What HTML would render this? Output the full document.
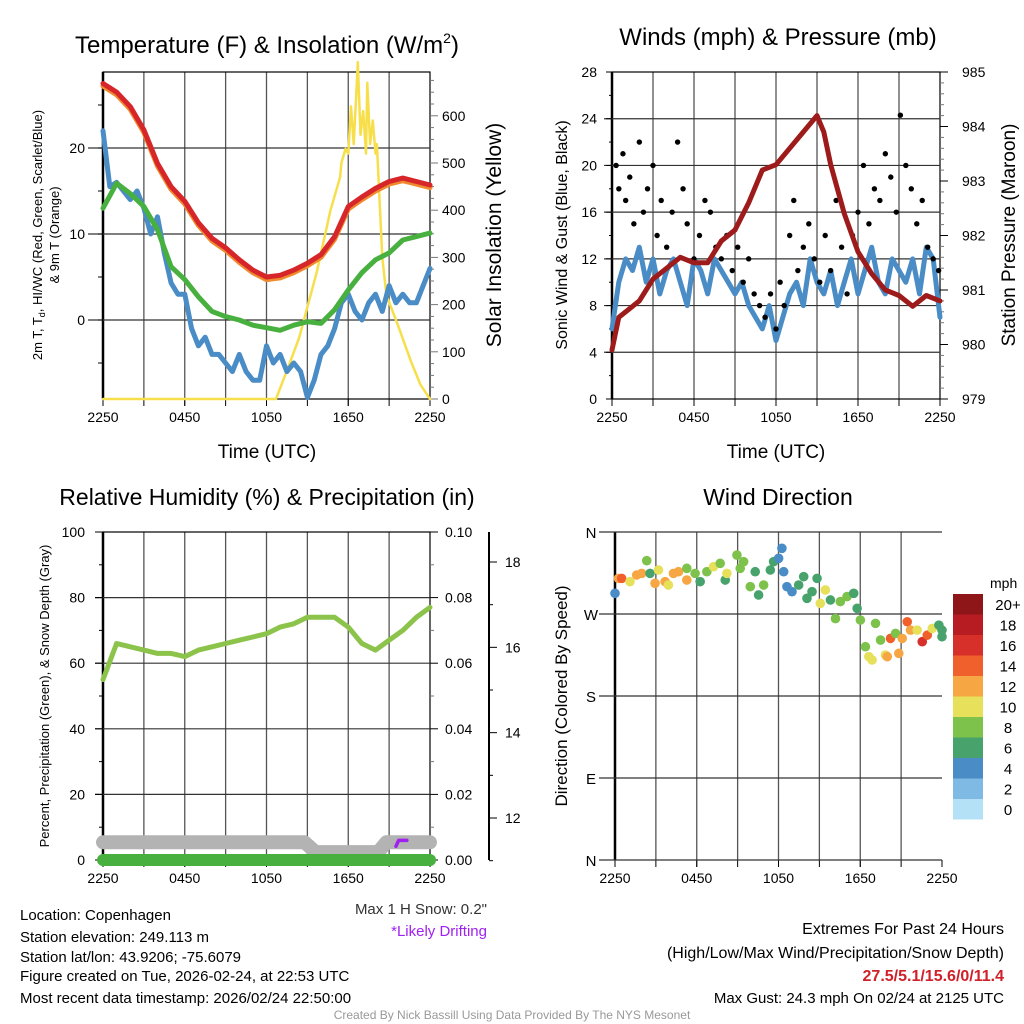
<!DOCTYPE html>
<html><head><meta charset="utf-8"><style>
html,body{margin:0;padding:0;background:#fff;}
svg{display:block;font-family:"Liberation Sans",Arial,sans-serif;}
</style></head><body>
<svg id="chart" xmlns="http://www.w3.org/2000/svg" width="1024" height="1024" viewBox="0 0 1024 1024">
<text x="267" y="53" font-size="24" text-anchor="middle">Temperature (F) &amp; Insolation (W/m<tspan font-size="14" dy="-10">2</tspan><tspan dy="10">)</tspan></text>
<text x="778" y="45" font-size="24" text-anchor="middle">Winds (mph) &amp; Pressure (mb)</text>
<text x="267" y="505" font-size="23" text-anchor="middle">Relative Humidity (%) &amp; Precipitation (in)</text>
<text x="778" y="505" font-size="23" text-anchor="middle">Wind Direction</text>
<g id="layer"></g>
<g font-size="15">
<text x="20" y="920">Location: Copenhagen</text>
<text x="20" y="942">Station elevation: 249.113 m</text>
<text x="20" y="962">Station lat/lon: 43.9206; -75.6079</text>
<text x="20" y="981">Figure created on Tue, 2026-02-24, at 22:53 UTC</text>
<text x="20" y="1003">Most recent data timestamp: 2026/02/24 22:50:00</text>
</g>
<text x="487" y="914" font-size="15" text-anchor="end" fill="#333">Max 1 H Snow: 0.2"</text>
<text x="487" y="936" font-size="15" text-anchor="end" fill="#a020f0">*Likely Drifting</text>
<g font-size="16" text-anchor="end">
<text x="1004" y="934">Extremes For Past 24 Hours</text>
<text x="1004" y="958">(High/Low/Max Wind/Precipitation/Snow Depth)</text>
<text x="1004" y="981" fill="#d0202a" font-weight="bold">27.5/5.1/15.6/0/11.4</text>
<text x="1004" y="1003" font-size="15">Max Gust: 24.3 mph On 02/24 at 2125 UTC</text>
</g>
<text x="512" y="1019" font-size="12" text-anchor="middle" fill="#999">Created By Nick Bassill Using Data Provided By The NYS Mesonet</text>
</svg>
<script>
// ---------- data ----------
const xTickLabels = ["2250","0450","1050","1650","2250"];
const hourly = [0,1,2,3,4,5,6,7,8,9,10,11,12,13,14,15,16,17,18,19,20,21,22,23,24];
const tempRed = [27.5,26.5,24.8,22.1,18.2,15.5,13.8,11.3,9.5,8.4,7.0,5.8,5.0,5.2,5.8,6.6,7.6,9.7,13.2,14.3,15.3,16.1,16.5,16.1,15.7];
const temp9mOrange = [27.2,26.2,24.5,21.8,17.9,15.2,13.5,11.0,9.2,8.1,6.7,5.5,4.7,4.9,5.5,6.3,7.3,9.4,12.9,14.0,15.0,15.8,16.2,15.8,15.4];
const dewGreen = [13.0,15.9,14.7,13.2,10.5,6.2,4.7,2.7,1.0,0.4,0.0,-0.6,-0.9,-1.2,-0.6,-0.2,-0.4,1.2,3.5,5.5,7.0,7.8,9.3,9.7,10.1];
const halfHourly = [0,0.5,1,1.5,2,2.5,3,3.5,4,4.5,5,5.5,6,6.5,7,7.5,8,8.5,9,9.5,10,10.5,11,11.5,12,12.5,13,13.5,14,14.5,15,15.5,16,16.5,17,17.5,18,18.5,19,19.5,20,20.5,21,21.5,22,22.5,23,23.5,24];
const windChillBlue = [22,15.5,16,15,14,15,13,10,12,7.8,4.3,3,3,-1,-3,-2,-4,-4,-5,-6,-4,-6,-7,-7,-3,-5,-4,-6,-5,-6,-9,-7,-4,-3,-1,2,3,1,0,2,3,1,4,2,3,2,2,4,6];
const solarTimes = [0,12.7,13.5,14.4,15.7,16.7,17.4,17.5,17.8,18.0,18.2,18.4,18.6,18.7,18.9,19.1,19.3,19.4,19.6,19.8,20.0,20.1,20.5,20.8,21.6,22.6,23.3,24];
const solarValues = [0,0,60,130,270,400,470,500,530,520,620,540,650,714,560,610,520,670,540,590,520,540,300,220,160,80,30,0];
const windSpeed = [6,10,12,11,13,10,12,9,11,12,10,8,12,11,9,12,11,10,9,10,8,7,6,8,5,7,9,10,8,12,10,9,11,8,10,12,9,11,13,10,9,12,11,10,12,9,13,12,7];
const gustTimes = [0.3,0.5,0.8,1,1.3,1.6,2,2.3,2.6,3,3.3,3.6,4,4.4,4.8,5.2,5.5,6,6.4,6.8,7.2,7.6,8,8.4,8.8,9.2,9.6,10,10.4,10.8,11.2,11.6,12,12.3,12.6,13,13.3,13.6,14,14.4,14.8,15.2,15.6,16,16.4,16.8,17.2,17.6,18,18.4,18.8,19.2,19.6,20,20.4,20.8,21.1,21.5,21.9,22.3,22.7,23.1,23.5,23.9];
const gustValues = [20,18,21,17,19,15,22,16,18,20,14,17,13,16,22,18,15,12,14,17,16,13,12,14,11,13,10,12,9,8,7,9,6,10,8,14,17,11,13,15,12,10,14,11,17,13,9,14,16,20,15,18,17,21,19,16,24.3,20,18,15,17,13,12,11];
const pressTimes = [0,0.5,1,2,3,4,5,6,7,8,9,10,11,12,13,14,15,15.5,16,17,18,19,20,21,22,23,24];
const pressValues = [979.9,980.5,980.6,980.8,981.2,981.4,981.6,981.5,981.5,981.9,982.1,982.6,983.2,983.3,983.6,983.9,984.2,983.9,983.3,982.4,981.7,981.3,981.0,980.9,980.7,980.9,980.8];
const rhValues = [55,66,65,64,63,63,62,64,65,66,67,68,69,71,72,74,74,74,71,66,64,67,70,74,77];
const snowTimes = [0,14.8,15.6,20.2,20.8,24];
const snowDepth = [11.43,11.43,11.2,11.2,11.43,11.43];
const precipValues = [0,0,0,0,0,0,0,0,0,0,0,0,0,0,0,0,0,0,0,0,0,0,0,0,0];
const dirTimes = [0,0.25,0.49,1.1,1.59,1.96,2.33,2.57,2.94,3.19,3.68,3.92,4.29,4.66,5.27,5.27,5.88,6.25,6.74,7.23,7.72,8.09,8.21,8.95,9.19,9.44,9.93,10.29,10.54,10.91,11.4,11.64,12.01,12.25,12.38,12.62,12.99,13.48,13.85,14.09,14.46,14.83,15.07,15.44,15.81,16.18,16.54,17.03,17.52,17.77,18.01,18.38,18.63,18.87,19.12,19.49,19.85,19.98,20.22,20.59,20.83,21.08,21.45,21.69,22.18,22.55,22.92,23.28,23.77,24,24];
const dirDegrees = [292.7,309.1,309.1,305.5,312.8,314.6,328.5,314.6,303.7,318.3,305.5,301.8,314.6,316.4,307.3,320.1,314.6,305.5,316.4,321.9,325.6,307.3,314.6,334.7,320.1,327.4,300,316.4,290.9,301.8,318.3,327.4,331.1,342.1,316.4,300,294.5,301.8,311,287.2,294.5,309.1,281.7,296.4,285.4,265,283.6,289.1,292.7,276.2,263.4,234.1,223.2,219.5,259.7,241.4,225,223.2,243.2,248.7,226.8,243.2,261.5,252.3,252.3,239.6,246.8,254.1,257.8,245,252.3];
const dirSpeeds = [4,12,14,10,12,12,8,6,12,10,12,10,12,12,12,8,8,6,8,10,8,6,10,8,8,8,8,6,6,8,6,6,4,4,4,4,4,6,6,6,6,6,10,10,6,8,8,8,6,6,8,8,10,10,8,8,10,12,14,8,12,12,14,12,10,16,14,10,6,6,6];
const cbLabels = ["20+","18","16","14","12","10","8","6","4","2","0"];
const cbColors = ["#8e1518","#b81c23","#d7302a","#f0602c","#f6a642","#e6e05a","#7dc24b","#47a36b","#4a8cc6","#7ebae3","#b5e1f6"];

// ---------- drawing ----------
const NS="http://www.w3.org/2000/svg";
const layer=document.getElementById('layer');
function mk(tag,attrs,parent){const e=document.createElementNS(NS,tag);for(const k in attrs)e.setAttribute(k,attrs[k]);(parent||layer).appendChild(e);return e;}
function lin(d0,d1,r0,r1){return v=>r0+(v-d0)/(d1-d0)*(r1-r0);}
function pathD(xs,ys,fx,fy){return xs.map((x,i)=>(i?'L':'M')+fx(x).toFixed(1)+','+fy(ys[i]).toFixed(1)).join('');}
function txt(x,y,s,size,anchor,parent){const t=mk('text',{x:x,y:y,'font-size':size,'text-anchor':anchor||'middle'},parent);t.textContent=s;return t;}

function frame(L,T,R,B,box,name){
  const g=mk('g',{});
  
  
  const fx=lin(0,24,L,R);
  for(let h=3;h<24;h+=3){const l=mk('line',{x1:fx(h),x2:fx(h),y1:T,y2:B,stroke:'#555','stroke-width':1.3},g);
    
    
    mk('line',{x1:fx(h),x2:fx(h),y1:B,y2:B+7,stroke:'#000','stroke-width':1},g);}
  xTickLabels.forEach((s,i)=>{const x=fx(i*6);mk('line',{x1:x,x2:x,y1:B,y2:B+7,stroke:'#000'},g);
    const t=txt(x,B+23,s,14,'middle',g);
    
    });
  if(box){mk('rect',{x:L,y:T,width:R-L,height:B-T,fill:'none',stroke:'#000','stroke-width':1.2},g);}
  mk('line',{x1:L,x2:L,y1:T,y2:B,stroke:'#000','stroke-width':2.5},g);
  return {g,fx};
}
function hgrid(g,ys,L,R,tickL){ys.forEach(y=>{const l=mk('line',{x1:L-tickL,x2:R,y1:y,y2:y,stroke:'#333','stroke-width':1.2},g);
  
  });}
function series(d,color,w,name){const p=mk('path',{d:d,fill:'none',stroke:color,'stroke-width':w,'stroke-linejoin':'round','stroke-linecap':'round'});
  
  return p;}

// ---- Panel 1: temperature ----
(function(){
  const L=103,R=430,T=72,B=399;
  const {g,fx}=frame(L,T,R,B,true,'temperature-panel');
  const fy=lin(0,10,320,234), fs=lin(0,100,399,351.8);
  hgrid(g,[fy(0),fy(10),fy(20)],L,R,15);
  [0,10,20].forEach(v=>{const t=txt(L-18,fy(v)+5,String(v),14,'end',g);
    
    });
  for(let v=-5;v<=25;v+=5){mk('line',{x1:L-5,x2:L,y1:fy(v),y2:fy(v),stroke:'#000'},g);}
  for(let v=0;v<=675;v+=25){const y=fs(v);mk('line',{x1:R,x2:R+(v%100?4:8),y1:y,y2:y,stroke:'#777'},g);}
  for(let v=0;v<=600;v+=100){const t=txt(R+12,fs(v)+5,String(v),14,'start',g);
    
    }
  series(pathD(solarTimes,solarValues,fx,fs),'#f7df4c',2.5,'solar-insolation-line');
  series(pathD(halfHourly,windChillBlue,fx,fy),'#4a8cc6',5,'wind-chill-line');
  series(pathD(hourly,dewGreen,fx,fy),'#48b03e',5,'dewpoint-line');
  series(pathD(hourly,temp9mOrange,fx,fy),'#f08a2e',5,'temp-9m-line');
  series(pathD(hourly,tempRed,fx,fy),'#d7262a',5,'temp-2m-line');
  const a=txt(0,0,'',13,'middle',g);a.setAttribute('transform','translate(42,235) rotate(-90)');
  
  
  a.innerHTML='2m T, T<tspan font-size="9" dy="3">d</tspan><tspan dy="-3">, HI/WC (Red, Green, Scarlet/Blue)</tspan>';
  const a2=txt(0,0,'& 9m T (Orange)',13,'middle',g);a2.setAttribute('transform','translate(59,235) rotate(-90)');
  const b=txt(0,0,'Solar Insolation (Yellow)',21,'middle',g);b.setAttribute('transform','translate(501,235) rotate(-90)');
  
  
  const x=txt(267,458,'Time (UTC)',19,'middle',g);
  
  
})();

// ---- Panel 2: winds ----
(function(){
  const L=612,R=940,T=72,B=399;
  const {g,fx}=frame(L,T,R,B,true,'wind-panel');
  const fy=lin(0,28,399,72), fp=lin(979,985,399,72);
  hgrid(g,[4,8,12,16,20,24].map(fy),L,R,8);
  for(let v=0;v<=28;v+=4){const t=txt(L-15,fy(v)+5,String(v),14,'end',g);
    
    
    mk('line',{x1:L-6,x2:L,y1:fy(v),y2:fy(v),stroke:'#000'},g);
    if(v<28)mk('line',{x1:L-3,x2:L,y1:fy(v+2),y2:fy(v+2),stroke:'#000'},g);}
  for(let v=979;v<=985;v+=1){const t=txt(R+22,fp(v)+5,String(v),14,'start',g);
    
    
    mk('line',{x1:R,x2:R+8,y1:fp(v),y2:fp(v),stroke:'#000'},g);
    for(let k=1;k<5&&v<985;k++)mk('line',{x1:R,x2:R+4,y1:fp(v+k/5),y2:fp(v+k/5),stroke:'#777'},g);}
  series(pathD(halfHourly,windSpeed,fx,fy),'#4a8cc6',5,'sonic-wind-line');
  gustTimes.forEach((t,i)=>{const c=mk('circle',{cx:fx(t),cy:fy(gustValues[i]),r:2.7,fill:'#000'});
    
    });
  series(pathD(pressTimes,pressValues,fx,fp),'#9e1b1b',5,'pressure-line');
  const a=txt(0,0,'Sonic Wind & Gust (Blue, Black)',16,'middle',g);a.setAttribute('transform','translate(567,235) rotate(-90)');
  
  
  const b=txt(0,0,'Station Pressure (Maroon)',19,'middle',g);b.setAttribute('transform','translate(1015,235) rotate(-90)');
  
  
  const x=txt(776,458,'Time (UTC)',19,'middle',g);
  
  
})();

// ---- Panel 3: humidity ----
(function(){
  const L=103,R=430,T=532,B=860;
  const {g,fx}=frame(L,T,R,B,true,'humidity-panel');
  const fy=lin(0,100,860,532), fpr=lin(0,0.1,860,532), fsn=lin(12,18,818,562);
  hgrid(g,[20,40,60,80].map(fy),L,R,8);
  for(let v=0;v<=100;v+=20){const t=txt(L-18,fy(v)+5,String(v),14,'end',g);
    
    
    mk('line',{x1:L-8,x2:L,y1:fy(v),y2:fy(v),stroke:'#000'},g);
    if(v<100)mk('line',{x1:L-4,x2:L,y1:fy(v+10),y2:fy(v+10),stroke:'#000'},g);}
  for(let i=0;i<=5;i++){const v=i*0.02;const t=txt(R+15,fpr(v)+5,v.toFixed(2),14,'start',g);
    
    
    mk('line',{x1:R,x2:R+8,y1:fpr(v),y2:fpr(v),stroke:'#000'},g);
    if(i<5)mk('line',{x1:R,x2:R+4,y1:fpr(v+0.01),y2:fpr(v+0.01),stroke:'#777'},g);}
  mk('line',{x1:489,x2:489,y1:532,y2:860,stroke:'#000','stroke-width':2},g);
  for(let v=12;v<=18;v+=2){const t=txt(505,fsn(v)+5,String(v),14,'start',g);
    
    
    mk('line',{x1:489,x2:497,y1:fsn(v),y2:fsn(v),stroke:'#000'},g);
    mk('line',{x1:489,x2:493,y1:fsn(v-1),y2:fsn(v-1),stroke:'#000'},g);}
  series(pathD(snowTimes,snowDepth,fx,fsn),'#b3b3b3',14,'snow-depth-line');
  series(pathD(hourly,precipValues,fx,fpr),'#48b03e',12,'precip-line');
  series('M'+fx(21.5)+','+(fsn(11.43)+4)+'L'+fx(21.7)+','+(fsn(11.43)-2)+'L'+fx(22.3)+','+(fsn(11.43)-2),'#a020f0',3.5,'drifting-marker');
  series(pathD(hourly,rhValues,fx,fy),'#8cc34a',5,'relative-humidity-line');
  const a=txt(0,0,'Percent, Precipitation (Green), & Snow Depth (Gray)',13,'middle',g);a.setAttribute('transform','translate(49,696) rotate(-90)');
  
  
})();

// ---- Panel 4: wind direction ----
(function(){
  const L=615,R=942,T=532,B=860;
  const {g,fx}=frame(L,T,R,B,false,'direction-panel');
  const fy=lin(0,360,860,532);
  hgrid(g,[0,90,180,270,360].map(fy),L,R,16);
  ["N","E","S","W","N"].forEach((s,i)=>{const t=txt(591,fy(i*90)+6,s,15,'middle',g);
    
    });
  dirTimes.forEach((t,i)=>{const sp=dirSpeeds[i];const idx=Math.max(0,Math.min(10,10-Math.floor(sp/2)));
    const c=mk('circle',{cx:fx(t),cy:fy(dirDegrees[i]),r:4.8,fill:cbColors[idx]});
    
    });
  const a=txt(0,0,'Direction (Colored By Speed)',17,'middle',g);a.setAttribute('transform','translate(567,696) rotate(-90)');
  
  
  const cb=mk('g',{});
  
  
  txt(990,588,'mph',14,'start',cb);
  cbColors.forEach((c,i)=>{const y=594+i*20.5;mk('rect',{x:953,y:y,width:30,height:20.5,fill:c},cb);
    const t=txt(1008,y+16,cbLabels[i],15,'middle',cb);
    
    });
})();
</script>
</body></html>
